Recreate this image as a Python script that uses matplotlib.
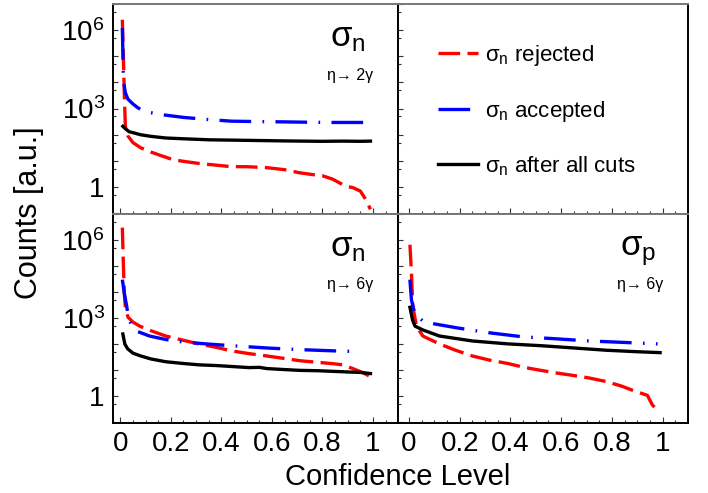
import numpy as np
import matplotlib
matplotlib.use("Agg")
import matplotlib.pyplot as plt
from matplotlib.ticker import FixedLocator, FuncFormatter, MultipleLocator

plt.rcParams['font.family'] = ['Liberation Sans', 'DejaVu Sans']
plt.rcParams['mathtext.fontset'] = 'custom'
plt.rcParams['mathtext.rm'] = 'Liberation Sans'
plt.rcParams['mathtext.it'] = 'Liberation Sans:italic'

# sigma_n, eta -> 2 gamma
x_n2g_rej = [0.008, 0.012, 0.016, 0.02, 0.03, 0.05, 0.08, 0.12, 0.16, 0.21, 0.26, 0.31, 0.37,
             0.44, 0.50, 0.58, 0.65, 0.71, 0.76, 0.80, 0.84, 0.87, 0.89, 0.92, 0.95, 0.97, 0.99]
y_n2g_rej = [2.5e6, 1e5, 3e3, 200, 90, 50, 32, 22, 16, 11, 9.3, 8, 7,
             6, 6, 5.5, 4.6, 3.5, 3.0, 2.7, 2.0, 1.4, 1.1, 0.95, 0.7, 0.35, 0.14]
x_n2g_acc = [0.008, 0.010, 0.012, 0.02, 0.03, 0.05, 0.068, 0.08, 0.12, 0.18, 0.25, 0.35, 0.44,
             0.55, 0.65, 0.75, 0.85, 0.95, 0.985]
y_n2g_acc = [1.2e6, 1.5e5, 1.2e4, 4e3, 2.3e3, 1.5e3, 1.1e3, 930, 700, 560, 460, 380, 330,
             318, 310, 300, 295, 295, 295]
x_n2g_all = [0.01, 0.02, 0.035, 0.05, 0.08, 0.12, 0.18, 0.25, 0.30, 0.35, 0.40, 0.45, 0.50,
             0.55, 0.60, 0.65, 0.72, 0.80, 0.88, 0.95, 0.99]
y_n2g_all = [210, 170, 130, 120, 100, 87, 75, 70, 67, 64, 63, 62, 61,
             60, 59, 58, 57, 56, 57, 56, 57]

# sigma_n, eta -> 6 gamma
x_n6g_rej = [0.008, 0.012, 0.016, 0.02, 0.03, 0.05, 0.077, 0.12, 0.18, 0.25, 0.31, 0.38, 0.44,
             0.51, 0.58, 0.65, 0.71, 0.78, 0.84, 0.88, 0.92, 0.96, 0.99]
y_n6g_rej = [3e6, 1.2e5, 8e3, 2.5e3, 1.1e3, 700, 490, 330, 204, 140, 102, 75, 55,
             43, 35, 28, 23, 20, 17.8, 16, 11.5, 8, 5.6]
x_n6g_acc = [0.008, 0.015, 0.025, 0.032, 0.045, 0.07, 0.116, 0.18, 0.25, 0.35, 0.44, 0.58,
             0.70, 0.78, 0.87, 0.95]
y_n6g_acc = [3e4, 1e4, 2.9e3, 1.1e3, 500, 300, 204, 150, 120, 100, 87, 71,
             62, 58, 54, 52]
x_n6g_all = [0.01, 0.018, 0.029, 0.05, 0.077, 0.12, 0.18, 0.25, 0.31, 0.38, 0.44, 0.51, 0.55,
             0.58, 0.65, 0.71, 0.78, 0.84, 0.90, 0.95, 0.99]
y_n6g_all = [245, 100, 66, 45, 36, 27, 21, 18, 16, 15, 13.8, 12.5, 12.8,
             11.5, 10.5, 9.8, 9.5, 9.0, 8.5, 8.2, 7.4]

# sigma_p, eta -> 6 gamma
x_p6g_rej = [0.004, 0.01, 0.015, 0.03, 0.055, 0.12, 0.18, 0.25, 0.32, 0.39, 0.45, 0.52, 0.58,
             0.65, 0.71, 0.78, 0.84, 0.88, 0.91, 0.94, 0.96, 0.98]
y_p6g_rej = [6.6e5, 5.6e4, 2.9e3, 490, 204, 102, 60, 35, 24, 18, 13, 9.8, 7.8,
             6.2, 5.0, 3.6, 2.4, 1.7, 1.35, 1.07, 0.45, 0.3]
x_p6g_acc = [0.004, 0.01, 0.024, 0.055, 0.10, 0.19, 0.32, 0.45, 0.58, 0.71, 0.84, 0.98]
y_p6g_acc = [3e4, 5e3, 1.4e3, 780, 600, 420, 270, 190, 160, 132, 117, 102]
x_p6g_all = [0.004, 0.015, 0.024, 0.055, 0.12, 0.25, 0.39, 0.52, 0.65, 0.78, 0.90, 0.99]
y_p6g_all = [2.6e3, 800, 490, 350, 205, 132, 102, 87, 71, 58, 51, 47]

ytick_text = {1: '1', 1e3: r'$\mathregular{10^{3}}$', 1e6: r'$\mathregular{10^{6}}$'}
y_decades = [10.0 ** k for k in range(-1, 8)]
y_halves = [5 * 10.0 ** k for k in range(-1, 7)]

W, H = 708, 493
fig = plt.figure(figsize=(W / 100, H / 100), dpi=100)


def panel(left, top, width, height, xlim):
    ax = fig.add_axes([left / W, 1 - (top + height) / H, width / W, height / H])
    ax.set_yscale('log')
    ax.set_xlim(*xlim)
    ax.set_ylim(0.093, 1.0e7)
    ax.xaxis.set_major_locator(MultipleLocator(0.2))
    ax.xaxis.set_minor_locator(MultipleLocator(0.05))
    ax.xaxis.set_major_formatter(FuncFormatter(lambda v, p: f"{v:g}"))
    ax.yaxis.set_major_locator(FixedLocator(y_decades))
    ax.yaxis.set_minor_locator(FixedLocator(y_halves))
    ax.yaxis.set_major_formatter(FuncFormatter(lambda v, p: ytick_text.get(round(v, 6), '')))
    ax.yaxis.set_minor_formatter(FuncFormatter(lambda v, p: ''))
    ax.tick_params(which='both', direction='in', top=False, right=False,
                   labelsize=20, width=0.8, color='#333333')
    ax.tick_params(axis='x', which='major', length=4.3, pad=5.5)
    ax.tick_params(axis='x', which='minor', length=2.2)
    ax.tick_params(axis='y', which='major', length=3.6, pad=6)
    ax.tick_params(axis='y', which='minor', length=2.4)
    for s in ax.spines.values():
        s.set_linewidth(1.4)
    ax.spines['top'].set_color('#777777')
    return ax


ax1 = panel(113, 4, 285, 210, (-0.029, 1.099))
ax2 = panel(398, 4, 290, 210, (-0.043, 1.100))
ax3 = panel(113, 214, 285, 209, (-0.029, 1.099))
ax4 = panel(398, 214, 290, 209, (-0.043, 1.100))

for ax in (ax1, ax2):
    ax.tick_params(axis='x', labelbottom=False)
for ax in (ax2, ax4):
    ax.tick_params(axis='y', labelleft=False)

red_style = dict(color='#ff0000', lw=2.4, dashes=(6.5, 2.2))
blue_style = dict(color='#0000ff', lw=2.4, dashes=(9.5, 3.4, 0.5, 3.4))
black_style = dict(color='black', lw=2.4)

h_rej, = ax1.plot(x_n2g_rej, y_n2g_rej, **red_style)
h_acc, = ax1.plot(x_n2g_acc, y_n2g_acc, **blue_style)
h_all, = ax1.plot(x_n2g_all, y_n2g_all, **black_style)

ax3.plot(x_n6g_rej, y_n6g_rej, **red_style)
ax3.plot(x_n6g_acc, y_n6g_acc, **blue_style)
ax3.plot(x_n6g_all, y_n6g_all, **black_style)

ax4.plot(x_p6g_rej, y_p6g_rej, **red_style)
ax4.plot(x_p6g_acc, y_p6g_acc, **blue_style)
ax4.plot(x_p6g_all, y_p6g_all, **black_style)

# panel labels
for ax, sub, decay, xt in ((ax1, 'n', 'η→ 2γ', 0.76),
                           (ax3, 'n', 'η→ 6γ', 0.76),
                           (ax4, 'p', 'η→ 6γ', 0.765)):
    ax.text(xt, 0.80, r'$\mathregular{σ_{%s}}$' % sub, transform=ax.transAxes,
            fontsize=25, ha='left', va='baseline')
    ax.text(xt - 0.01, 0.64, decay, transform=ax.transAxes,
            fontsize=11.5, ha='left', va='baseline')

ax2.legend([h_rej, h_acc, h_all],
           [r'$\mathregular{σ_{n}}$ rejected', r'$\mathregular{σ_{n}}$ accepted',
            r'$\mathregular{σ_{n}}$ after all cuts'],
           loc='upper left', bbox_to_anchor=(0.07, 0.91), frameon=False,
           fontsize=16, handlelength=1.8, handletextpad=0.3, labelspacing=1.38)

fig.text(29 / W, 1 - 213 / H, 'Counts [a.u.]', rotation=90, fontsize=22,
         ha='center', va='center')
fig.text(398 / W, 1 - 485 / H, 'Confidence Level', fontsize=21,
         ha='center', va='baseline')

fig.savefig('out.png', dpi=100)
